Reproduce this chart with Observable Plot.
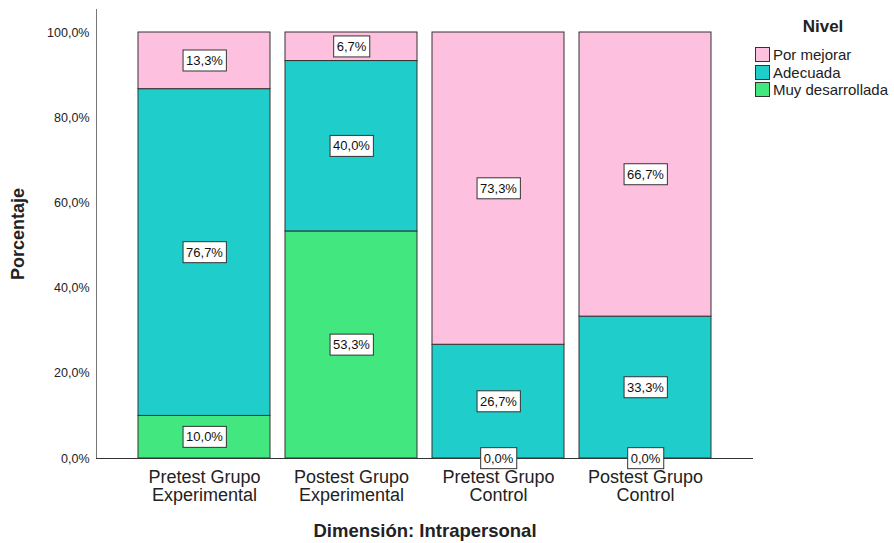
<!DOCTYPE html>
<html>
<head>
<meta charset="utf-8">
<script src="https://cdn.jsdelivr.net/npm/d3@7"></script>
<script src="https://cdn.jsdelivr.net/npm/@observablehq/plot@0.6"></script>
<style>
  body { margin: 0; background: #fff; }
  #wrap { position: relative; width: 894px; height: 543px; font-family: "Liberation Sans", Arial, sans-serif; }
  #legend { position: absolute; left: 755px; top: 17px; font-size: 15px; color: #222; }
  #legend .title { font-weight: bold; font-size: 17px; text-align: center; width: 136px; margin-bottom: 9px; }
  #legend .item { display: flex; align-items: center; height: 17.5px; }
  #legend .sw { width: 15px; height: 15px; border: 1px solid #333; margin-right: 3px; box-sizing: border-box; }
</style>
</head>
<body>
<div id="wrap"><div id="legend"></div></div>
<script>
const grupos = ["Pretest Grupo Experimental", "Postest Grupo Experimental", "Pretest Grupo Control", "Postest Grupo Control"];
const tickLabels = ["Pretest Grupo\nExperimental", "Postest Grupo\nExperimental", "Pretest Grupo\nControl", "Postest Grupo\nControl"];
const niveles = ["Por mejorar", "Adecuada", "Muy desarrollada"];
const colores = ["#FEC0DF", "#1FCECB", "#43E77F"];
const porMejorar = [13.3, 6.7, 73.3, 66.7];
const adecuada = [76.7, 40.0, 26.7, 33.3];
const muyDesarrollada = [10.0, 53.3, 0.0, 0.0];
const yTicks = [0, 20, 40, 60, 80, 100];

const series = {"Por mejorar": porMejorar, "Adecuada": adecuada, "Muy desarrollada": muyDesarrollada};
const data = [];
grupos.forEach((g, i) => {
  ["Muy desarrollada", "Adecuada", "Por mejorar"].forEach(n => data.push({grupo: g, nivel: n, valor: series[n][i]}));
});
const fmt = v => v.toFixed(1).replace(".", ",") + "%";
const stackOrder = ["Muy desarrollada", "Adecuada", "Por mejorar"];

const chart = Plot.plot({
  width: 894, height: 543,
  marginLeft: 96, marginRight: 141, marginTop: 9, marginBottom: 85,
  style: {fontFamily: "Liberation Sans, Arial, sans-serif", color: "#222", background: "#fff"},
  x: {domain: grupos, paddingInner: 0.1, paddingOuter: 0.27, label: null, axis: null},
  y: {domain: [0, 105.4], label: null, axis: null},
  color: {domain: niveles, range: colores},
  marks: [
    Plot.barY(data.filter(d => d.valor > 0), Plot.stackY({x: "grupo", y: "valor", z: "nivel", order: stackOrder, fill: "nivel", stroke: "#333", strokeWidth: 1})),
    Plot.frame({anchor: "left", stroke: "#777"}),
    Plot.ruleY([0], {stroke: "#333"}),
    Plot.axisY({ticks: yTicks, tickSize: 0, tickPadding: 7, fontSize: 12.5, tickFormat: fmt, label: null}),
    Plot.axisX({tickSize: 0, tickPadding: 11, fontSize: 18, lineHeight: 1.02, tickFormat: d => tickLabels[grupos.indexOf(d)], label: null}),
    Plot.text(["Porcentaje"], {frameAnchor: "left", dx: -78, rotate: -90, textAnchor: "middle", lineAnchor: "middle", fontWeight: "bold", fontSize: 18}),
    Plot.text(["Dimensión: Intrapersonal"], {frameAnchor: "bottom", dy: 73, textAnchor: "middle", lineAnchor: "middle", fontWeight: "bold", fontSize: 18.5}),
    Plot.text(data, Plot.stackY({x: "grupo", y: "valor", z: "nivel", order: stackOrder, text: d => fmt(d.valor), fontSize: 13, fill: "#111", className: "seglabel"}))
  ]
});
document.getElementById("wrap").prepend(chart);

// white boxes behind segment labels
d3.select(chart).selectAll(".seglabel text").each(function() {
  const b = this.getBBox();
  const r = document.createElementNS("http://www.w3.org/2000/svg", "rect");
  r.setAttribute("x", b.x - 3);
  r.setAttribute("y", b.y - 3);
  r.setAttribute("width", b.width + 6);
  r.setAttribute("height", b.height + 6);
  r.setAttribute("fill", "#fff");
  r.setAttribute("stroke", "#333");
  r.setAttribute("stroke-width", 1);
  const t = this.getAttribute("transform");
  if (t) r.setAttribute("transform", t);
  this.parentNode.insertBefore(r, this);
});

const leg = document.getElementById("legend");
leg.innerHTML = `<div class="title">Nivel</div>` + niveles.map((n, i) =>
  `<div class="item"><div class="sw" style="background:${colores[i]}"></div><span>${n}</span></div>`).join("");
</script>
</body>
</html>
